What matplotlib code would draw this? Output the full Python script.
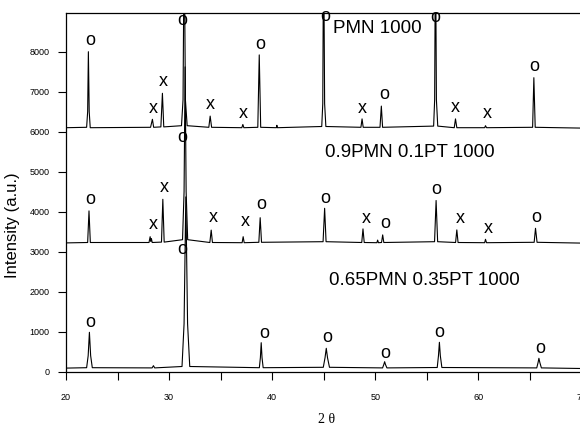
import matplotlib
matplotlib.use("Agg")
import matplotlib.pyplot as plt

# ---- data (2theta, intensity) ----
pmn_x = [20.0, 22.0, 22.1, 22.17, 22.25, 22.35, 28.2, 28.38, 28.5, 29.2, 29.35, 29.48,
         31.2, 31.35, 31.46, 31.58, 31.75, 33.85, 33.98, 34.12, 37.05, 37.15, 37.25,
         38.6, 38.74, 38.88, 40.4, 40.45, 40.5, 44.8, 44.9, 44.98, 45.08, 45.2,
         48.6, 48.71, 48.82, 50.45, 50.58, 50.7, 55.65, 55.75, 55.83, 55.92, 56.05,
         57.65, 57.77, 57.9, 60.6, 60.68, 60.78, 65.25, 65.37, 65.5, 70.0]
pmn_y = [6100, 6110, 6500, 8000, 6500, 6100, 6110, 6310, 6110, 6120, 6960, 6120,
         6150, 6800, 11000, 6800, 6150, 6110, 6390, 6110, 6100, 6180, 6100,
         6110, 7920, 6110, 6100, 6160, 6100, 6130, 6700, 11000, 6700, 6130,
         6110, 6320, 6110, 6110, 6640, 6110, 6140, 6800, 11000, 6800, 6140,
         6100, 6320, 6100, 6100, 6150, 6100, 6110, 7350, 6110, 6090]

pt10_x = [20.0, 22.1, 22.23, 22.36, 28.05, 28.16, 28.22, 28.28, 28.36, 29.26, 29.39, 29.52,
          31.3, 31.45, 31.55, 31.65, 31.8, 33.95, 34.08, 34.2, 37.08, 37.18, 37.28,
          38.7, 38.83, 38.96, 44.93, 45.08, 45.22, 48.68, 48.8, 48.92, 50.15, 50.22, 50.3,
          50.6, 50.71, 50.82, 55.74, 55.89, 56.04, 57.78, 57.9, 58.02, 60.6, 60.68, 60.78,
          65.4, 65.53, 65.68, 70.0]
pt10_y = [3220, 3230, 4020, 3230, 3230, 3375, 3260, 3330, 3230, 3240, 4310, 3240,
          3300, 4500, 7620, 4500, 3300, 3230, 3540, 3230, 3225, 3375, 3225,
          3235, 3850, 3235, 3250, 4085, 3250, 3230, 3570, 3230, 3225, 3290, 3225,
          3230, 3420, 3230, 3250, 4280, 3250, 3230, 3545, 3230, 3225, 3310, 3225,
          3235, 3585, 3235, 3215]

pt35_x = [20.0, 22.0, 22.15, 22.27, 22.39, 22.55, 28.35, 28.48, 28.6,
          31.25, 31.45, 31.62, 31.79, 32.0, 38.75, 38.85, 38.93, 39.01, 39.12,
          44.95, 45.12, 45.24, 45.36, 45.55, 50.7, 50.82, 50.9, 50.98, 51.12,
          56.0, 56.12, 56.21, 56.3, 56.45, 65.65, 65.78, 65.86, 65.95, 66.1, 70.0]
pt35_y = [90, 100, 400, 985, 400, 100, 95, 150, 95,
          130, 1200, 4370, 1200, 130, 100, 350, 725, 350, 100,
          110, 350, 585, 350, 110, 95, 180, 250, 180, 95,
          105, 400, 735, 400, 105, 95, 230, 335, 230, 95, 80]

# peak markers: (2theta, intensity, symbol)
mark_x = [22.33, 28.48, 29.45, 31.23, 33.98, 37.21, 38.83, 45.15, 48.71, 50.87, 55.83, 57.77, 60.9, 65.37,
          22.4, 28.42, 29.51, 31.23, 34.24, 37.41, 38.93, 45.15, 49.13, 50.97, 55.92, 58.25, 61.0, 65.6,
          22.4, 31.23, 39.22, 45.37, 50.97, 56.24, 65.95]
mark_y = [8275, 6585, 7250, 8790, 6668, 6443, 8185, 8875, 6585, 6935, 8860, 6610, 6443, 7625,
          4293, 3668, 4600, 5860, 3860, 3750, 4168, 4335, 3835, 3693, 4543, 3835, 3585, 3860,
          1235, 3043, 943, 860, 460, 975, 568]
mark_s = ["o", "x", "x", "o", "x", "x", "o", "o", "x", "o", "o", "x", "x", "o",
          "o", "x", "x", "o", "x", "x", "o", "o", "x", "o", "o", "x", "x", "o",
          "o", "o", "o", "o", "o", "o", "o"]

sample_names = ["PMN 1000", "0.9PMN 0.1PT 1000", "0.65PMN 0.35PT 1000"]
name_x = [45.92, 45.15, 45.47]
name_y = [8580, 5470, 2270]

xticks = [20, 25, 30, 35, 40, 45, 50, 55, 60, 65, 70]
xticklabels = ["20", "", "30", "", "40", "", "50", "", "60", "", "70"]
yticks = [0, 1000, 2000, 3000, 4000, 5000, 6000, 7000, 8000]

plt.rcParams['font.family'] = ['Liberation Sans', 'DejaVu Sans']

fig = plt.figure(figsize=(5.8, 4.28), dpi=100)
ax = fig.add_axes([66 / 580, 1 - 371.7 / 428, (581.6 - 66) / 580, (371.7 - 12.5) / 428])

for xs, ys in [(pmn_x, pmn_y), (pt10_x, pt10_y), (pt35_x, pt35_y)]:
    ax.plot(xs, ys, color="black", lw=0.8)

for x, y, s in zip(mark_x, mark_y, mark_s):
    ax.text(x, y, s, ha="center", va="center", fontsize=13, color="black")

for x, y, s in zip(name_x, name_y, sample_names):
    ax.text(x, y, s, ha="left", va="center", fontsize=13.5, color="black")

ax.set_xlim(20, 70)
ax.set_ylim(0, 8980)
ax.set_xticks(xticks)
ax.set_xticklabels(xticklabels)
ax.set_yticks(yticks)
ax.tick_params(axis="both", direction="out", length=6, width=0.8, labelsize=6.5)
ax.tick_params(axis="x", pad=9)
ax.tick_params(axis="y", pad=6)
for sp in ax.spines.values():
    sp.set_linewidth(0.9)

ax.set_ylabel("Intensity (a.u.)", fontsize=12)
ax.yaxis.set_label_coords((20 - 66) / (581.6 - 66), 0.408)

fig.text(327 / 580, 1 - 419.8 / 428, "2 θ", ha="center", va="center", fontsize=10,
         family=["Liberation Serif", "DejaVu Serif"])

fig.savefig("out.png", dpi=100)
